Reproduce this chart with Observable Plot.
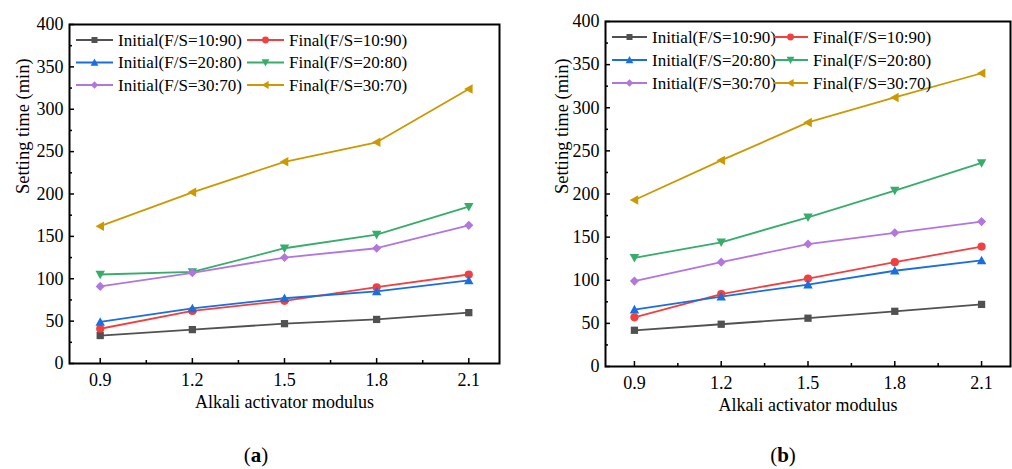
<!DOCTYPE html>
<html>
<head>
<meta charset="utf-8">
<script src="https://cdn.jsdelivr.net/npm/d3@7"></script>
<script src="https://cdn.jsdelivr.net/npm/@observablehq/plot@0.6"></script>
<style>
  html, body { margin: 0; padding: 0; background: #fff; }
  #wrap { position: relative; width: 1012px; height: 469px; overflow: hidden; font-family: "Liberation Serif", serif; }
  #wrap svg, #wrap svg text { font-family: "Liberation Serif", serif !important; }
  .panel { position: absolute; top: 0; }
  .cap { position: absolute; top: 443px; font-family: "Liberation Serif", serif; font-size: 21px; color: #000; transform: translateX(-50%); }
</style>
</head>
<body>
<div id="wrap">
  <div id="pa" class="panel" style="left:0px"></div>
  <div id="pb" class="panel" style="left:506px"></div>
  <div class="cap" style="left:256px">(<b>a</b>)</div>
  <div class="cap" style="left:783px">(<b>b</b>)</div>
</div>
<script>
// ---- data ----
const modulus = [0.9, 1.2, 1.5, 1.8, 2.1];
const seriesNames = [
  "Initial(F/S=10:90)", "Final(F/S=10:90)",
  "Initial(F/S=20:80)", "Final(F/S=20:80)",
  "Initial(F/S=30:70)", "Final(F/S=30:70)"
];
// panel (a)
const initial1090a = [33, 40, 47, 52, 60];
const final1090a   = [41, 62, 74, 90, 105];
const initial2080a = [49, 65, 77, 85, 98];
const final2080a   = [105, 108, 136, 152, 185];
const initial3070a = [91, 107, 125, 136, 163];
const final3070a   = [162, 202, 238, 261, 324];
// panel (b)
const initial1090b = [42, 49, 56, 64, 72];
const final1090b   = [57, 84, 102, 121, 139];
const initial2080b = [66, 81, 95, 111, 123];
const final2080b   = [126, 144, 173, 204, 236];
const initial3070b = [99, 121, 142, 155, 168];
const final3070b   = [193, 239, 283, 312, 340];

const xTicks = [0.9, 1.2, 1.5, 1.8, 2.1];
const xMinorTicks = [1.05, 1.35, 1.65, 1.95];
const yTicks = [0, 50, 100, 150, 200, 250, 300, 350, 400];
const yMinorTicks = [25, 75, 125, 175, 225, 275, 325, 375];
const xLabel = "Alkali activator modulus";
const yLabel = "Setting time (min)";

// ---- styles ----
const FONT = "Liberation Serif";
const colors = ["#515151", "#F14040", "#1A6FDF", "#37AD6B", "#B177DE", "#CC9900"];
const triUp = {draw(c, s) { const a = Math.sqrt(s) * 1.05; c.moveTo(0, -0.62 * a); c.lineTo(0.62 * a, 0.5 * a); c.lineTo(-0.62 * a, 0.5 * a); c.closePath(); }};
const triDown = {draw(c, s) { const a = Math.sqrt(s) * 1.05; c.moveTo(0, 0.62 * a); c.lineTo(0.62 * a, -0.5 * a); c.lineTo(-0.62 * a, -0.5 * a); c.closePath(); }};
const triLeft = {draw(c, s) { const a = Math.sqrt(s) * 1.05; c.moveTo(-0.62 * a, 0); c.lineTo(0.5 * a, -0.62 * a); c.lineTo(0.5 * a, 0.62 * a); c.closePath(); }};
const symbols = [d3.symbolSquare, d3.symbolCircle, triUp, triDown, d3.symbolDiamond2, triLeft];

function toRows(valuesList) {
  const rows = [];
  valuesList.forEach((vals, i) => vals.forEach((v, j) => rows.push({series: seriesNames[i], k: i, x: modulus[j], y: v})));
  return rows;
}

function legend(cfg, m) {
  return () => {
    const g = d3.create("svg:g").attr("font-family", FONT).attr("font-size", 17).attr("fill", "#000")
      .attr("text-anchor", "start");
    seriesNames.forEach((name, i) => {
      const col = i % 2, row = Math.floor(i / 2);
      const x0 = m.left + cfg.colX[col];
      const y = m.top + cfg.rowY[row];
      g.append("line").attr("x1", x0).attr("x2", x0 + cfg.len).attr("y1", y).attr("y2", y)
        .attr("stroke", colors[i]).attr("stroke-width", 2);
      g.append("path").attr("d", d3.symbol(symbols[i], 36)())
        .attr("transform", `translate(${x0 + cfg.len / 2},${y})`).attr("fill", colors[i]);
      g.append("text").attr("x", x0 + cfg.len + 5).attr("y", y).attr("dy", "0.34em")
        .attr("text-anchor", "start").attr("font-family", FONT).text(name);
    });
    return g.node();
  };
}

function makePanel(valuesList, m, lg, yLabelDx) {
  const W = 506, H = 420;
  const fw = W - m.left - m.right, fh = H - m.top - m.bottom;
  const rows = toRows(valuesList);
  const marks = [];
  seriesNames.forEach((name, i) => {
    const d = rows.filter(r => r.k === i);
    marks.push(Plot.line(d, {x: "x", y: "y", stroke: colors[i], strokeWidth: 1.8}));
  });
  seriesNames.forEach((name, i) => {
    const d = rows.filter(r => r.k === i);
    marks.push(Plot.dot(d, {x: "x", y: "y", fill: colors[i], stroke: "none", symbol: symbols[i], r: 4.1}));
  });
  return Plot.plot({
    width: W, height: H,
    marginLeft: m.left, marginRight: m.right, marginTop: m.top, marginBottom: m.bottom,
    style: {fontFamily: FONT, fontSize: "18px", color: "#000", background: "transparent", overflow: "visible"},
    x: {domain: [0.8, 2.2]},
    y: {domain: [0, 400]},
    marks: [
      Plot.axisX(xTicks, {tickSize: 0, tickPadding: 10, label: null, fontSize: 18, fontFamily: FONT, tickFormat: d3.format(".1f")}),
      Plot.axisY(yTicks, {tickSize: 0, tickPadding: 6, label: null, fontSize: 18, fontFamily: FONT, tickFormat: d => String(d)}),
      Plot.tickX(xTicks, {x: d => d, stroke: "#000", strokeWidth: 1.5, insetTop: fh - 5}),
      Plot.tickX(xMinorTicks, {x: d => d, stroke: "#000", strokeWidth: 1.5, insetTop: fh - 3}),
      Plot.tickY(yTicks, {y: d => d, stroke: "#000", strokeWidth: 1.5, insetRight: fw - 5}),
      Plot.tickY(yMinorTicks, {y: d => d, stroke: "#000", strokeWidth: 1.5, insetRight: fw - 3}),
      ...marks,
      Plot.frame({stroke: "#000", strokeWidth: 2}),
      Plot.text([xLabel], {frameAnchor: "bottom", dy: 44, fontSize: 18, fontFamily: FONT, fill: "#000"}),
      Plot.text([yLabel], {frameAnchor: "left", dx: yLabelDx, rotate: -90, fontSize: 18.5, fontFamily: FONT, fill: "#000"}),
      legend(lg, m)
    ]
  });
}

document.getElementById("pa").append(makePanel(
  [initial1090a, final1090a, initial2080a, final2080a, initial3070a, final3070a],
  {left: 69, right: 7, top: 24, bottom: 57},
  {colX: [7, 178], rowY: [16, 38.5, 61], len: 37},
  -46
));
document.getElementById("pb").append(makePanel(
  [initial1090b, final1090b, initial2080b, final2080b, initial3070b, final3070b],
  {left: 99, right: 2, top: 21, bottom: 54},
  {colX: [7, 168], rowY: [16, 39, 62], len: 35},
  -43
));
</script>
</body>
</html>
